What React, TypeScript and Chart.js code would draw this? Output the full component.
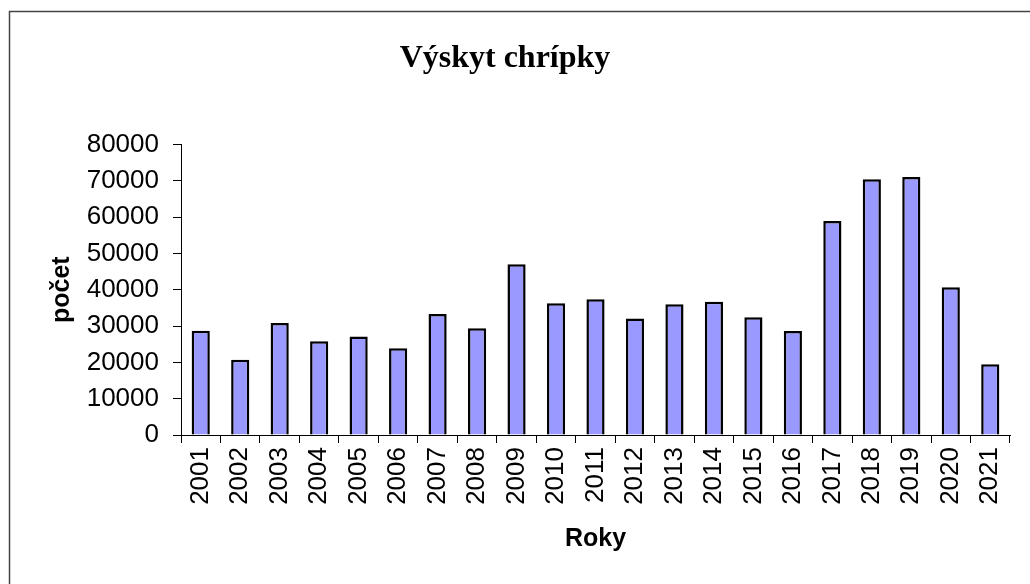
import React, { useEffect, useRef } from "react";
import { Chart, registerables } from "chart.js";

Chart.register(...registerables);

const years = [
  "2001", "2002", "2003", "2004", "2005", "2006", "2007", "2008", "2009", "2010",
  "2011", "2012", "2013", "2014", "2015", "2016", "2017", "2018", "2019", "2020", "2021",
];
const counts = [
  28700, 20700, 30800, 25800, 27100, 23900, 33300, 29400, 47000, 36300,
  37400, 32100, 36000, 36700, 32400, 28600, 58900, 70400, 71000, 40700, 19500,
];
const chartTitle = "Výskyt chrípky";
const xTitle = "Roky";
const yTitle = "počet";

const frame = {
  id: "frame",
  beforeDraw(chart: any) {
    const ctx = chart.ctx;
    ctx.save();
    ctx.fillStyle = "#ffffff";
    ctx.fillRect(0, 0, chart.width, chart.height);
    ctx.strokeStyle = "#444444";
    ctx.lineWidth = 1.5;
    ctx.beginPath();
    ctx.moveTo(9.5, chart.height);
    ctx.lineTo(9.5, 11.5);
    ctx.lineTo(chart.width, 11.5);
    ctx.stroke();
    ctx.restore();
  },
};

export default function App() {
  const ref = useRef<HTMLCanvasElement>(null);
  useEffect(() => {
    if (!ref.current) return;
    const tickFont = { family: "'Liberation Sans', Arial, sans-serif", size: 26 };
    const chart = new Chart(ref.current, {
      type: "bar",
      data: {
        labels: years,
        datasets: [
          {
            data: counts,
            backgroundColor: "#9999ff",
            borderColor: "#000000",
            borderWidth: 2.5,
            barPercentage: 0.46,
            categoryPercentage: 1,
          },
        ],
      },
      options: {
        animation: false,
        responsive: false,
        layout: { padding: { left: 0, right: 20, top: 0, bottom: 0 } },
        plugins: {
          legend: { display: false },
          tooltip: { enabled: false },
          title: {
            display: true,
            text: chartTitle,
            color: "#000000",
            font: { family: "'Liberation Serif', 'Times New Roman', serif", size: 32, weight: "bold" },
            padding: { top: 40, bottom: 66 },
          },
        },
        scales: {
          x: {
            grid: {
              display: true,
              drawOnChartArea: false,
              drawTicks: true,
              tickLength: 8,
              color: "#000000",
              offset: true,
            },
            border: { display: true, color: "#000000", width: 1 },
            ticks: {
              color: "#000000",
              font: tickFont,
              minRotation: 90,
              maxRotation: 90,
              padding: 4,
              autoSkip: false,
            },
            title: {
              display: true,
              text: xTitle,
              color: "#000000",
              font: { family: "'Liberation Sans', Arial, sans-serif", size: 25, weight: "bold" },
              padding: { top: 10, bottom: 30 },
            },
            afterFit: (scale: any) => {
              scale.height = 149;
            },
          },
          y: {
            min: 0,
            max: 80000,
            grid: {
              display: true,
              drawOnChartArea: false,
              drawTicks: true,
              tickLength: 8,
              color: "#000000",
            },
            border: { display: true, color: "#000000", width: 1 },
            ticks: {
              stepSize: 10000,
              color: "#000000",
              font: tickFont,
              padding: 14,
              callback: (v: any) => String(v),
            },
            title: {
              display: true,
              text: yTitle,
              color: "#000000",
              font: { family: "'Liberation Sans', Arial, sans-serif", size: 25, weight: "bold" },
              padding: { top: 47, bottom: 10 },
            },
            afterFit: (scale: any) => {
              scale.width = 181;
            },
          },
        },
      },
      plugins: [frame],
    });
    return () => chart.destroy();
  }, []);
  return (
    <div style={{ position: "fixed", left: 0, top: 0, width: 1030, height: 584 }}>
      <canvas ref={ref} width={1030} height={584} style={{ display: "block" }} />
    </div>
  );
}
